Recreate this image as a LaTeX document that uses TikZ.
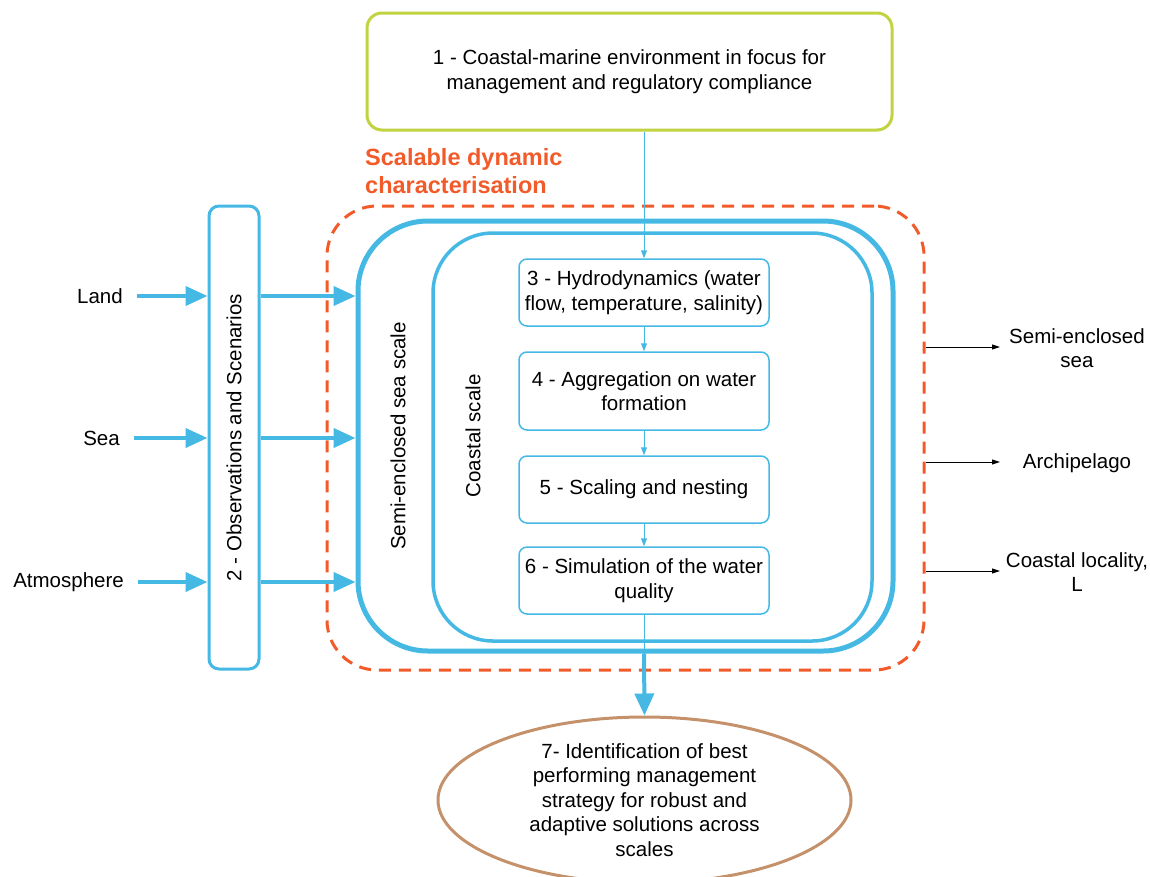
\documentclass[tikz,border=0pt]{standalone}
\usepackage{fontspec}
\setmainfont{Liberation Sans}
\usetikzlibrary{arrows.meta,shapes.geometric}
\definecolor{cblue}{HTML}{45B8E4}
\definecolor{corange}{HTML}{F25A29}
\definecolor{cgreen}{HTML}{C2D341}
\definecolor{cbrown}{HTML}{C4916A}
\tikzset{
  txt/.style={font=\fontsize{20.5}{24.5}\selectfont, align=center, text=black},
  stepbox/.style={txt, draw=cblue, line width=1.5pt, rounded corners=8pt, minimum width=250pt, inner sep=0pt},
  thinarr/.style={draw=cblue, line width=1pt, -{Triangle[length=8pt,width=6pt]}},
  fatarr/.style={draw=cblue, line width=4pt, -{Triangle[length=22pt,width=19pt]}},
  blackarr/.style={draw=black, line width=1pt, -{Triangle[length=8pt,width=5pt]}},
}
\begin{document}
\begin{tikzpicture}[x=1pt,y=-1pt]
\useasboundingbox (0,0) rectangle (1150,876);
% box 1
\node[txt, draw=cgreen, line width=3pt, rounded corners=15pt, minimum width=525pt, minimum height=117pt, inner sep=0pt] (b1) at (629.5,71.5) {1 - Coastal-marine environment in focus for\\management and regulatory compliance};
% title
\node[anchor=west, align=left, inner sep=0pt, text=corange, font=\fontsize{23.5}{28}\selectfont\bfseries] (title) at (365,171) {Scalable dynamic\\characterisation};
% dashed region
\node[draw=corange, line width=3pt, dash pattern=on 12pt off 8pt, rounded corners=50pt, minimum width=597pt, minimum height=464pt, inner sep=0pt] (dash) at (625.5,438) {};
% observation box
\node[draw=cblue, line width=3pt, rounded corners=10pt, minimum width=50pt, minimum height=463pt, inner sep=0pt] (obs) at (234,437.5) {};
\node[txt, rotate=90] (obst) at (obs.center) {2 - Observations and Scenarios};
% outer & inner scale boxes
\node[draw=cblue, line width=5pt, rounded corners=70pt, minimum width=535pt, minimum height=430pt, inner sep=0pt] (outer) at (625.5,436) {};
\node[draw=cblue, line width=3.5pt, rounded corners=60pt, minimum width=439pt, minimum height=408pt, inner sep=0pt] (inner) at (652.5,437) {};
\node[txt, rotate=90] (outt) at (398,436) {Semi-enclosed sea scale};
\node[txt, rotate=90] (innt) at (473,436) {Coastal scale};
% step boxes
\node[stepbox, minimum height=67pt] (b3) at (644,292.5) {3 - Hydrodynamics (water\\flow, temperature, salinity)};
\node[stepbox, minimum height=78pt] (b4) at (644,391) {4 - Aggregation on water\\formation};
\node[stepbox, minimum height=67pt] (b5) at (644,489.5) {5 - Scaling and nesting};
\node[stepbox, minimum height=67pt] (b6) at (644,580.5) {6 - Simulation of the water\\quality};
% ellipse
\node[txt, ellipse, draw=cbrown, line width=3pt, minimum width=413pt, minimum height=166pt, inner sep=0pt] (b7) at (644.5,800) {7- Identification of best\\performing management\\strategy for robust and\\adaptive solutions across\\scales};
% left labels
\node[txt, anchor=east, inner sep=0pt] (land) at (123,296) {Land};
\node[txt, anchor=east, inner sep=0pt] (sea) at (120,438) {Sea};
\node[txt, anchor=east, inner sep=0pt] (atm) at (124,582) {Atmosphere};
% right labels
\node[txt, inner sep=0pt] (r1) at (1077,348) {Semi-enclosed\\sea};
\node[txt, inner sep=0pt] (r2) at (1077,463) {Archipelago};
\node[txt, inner sep=0pt] (r3) at (1077,572) {Coastal locality,\\L};
\coordinate (e1) at (1000,347);
\coordinate (e2) at (1000,462);
\coordinate (e3) at (1000,571);
% connectors
\draw[thinarr] (b1.south -| b3.north) -- (b3.north);
\draw[thinarr] (b3) -- (b4);
\draw[thinarr] (b4) -- (b5);
\draw[thinarr] (b5) -- (b6);
\draw[draw=cblue, line width=1pt] (b6.south) -- (b6.south |- outer.south);
\draw[fatarr] (b6.south |- outer.south) -- (b7.north);
\draw[fatarr, shorten <=14pt] (land.east) -- (obs.west |- land);
\draw[fatarr, shorten <=14pt] (sea.east) -- (obs.west |- sea);
\draw[fatarr, shorten <=14pt] (atm.east) -- (obs.west |- atm);
\draw[fatarr] (obs.east |- land) -- (outer.west |- land);
\draw[fatarr] (obs.east |- sea) -- (outer.west |- sea);
\draw[fatarr] (obs.east |- atm) -- (outer.west |- atm);
\draw[blackarr] (dash.east |- e1) -- (e1);
\draw[blackarr] (dash.east |- e2) -- (e2);
\draw[blackarr] (dash.east |- e3) -- (e3);
\end{tikzpicture}
\end{document}
